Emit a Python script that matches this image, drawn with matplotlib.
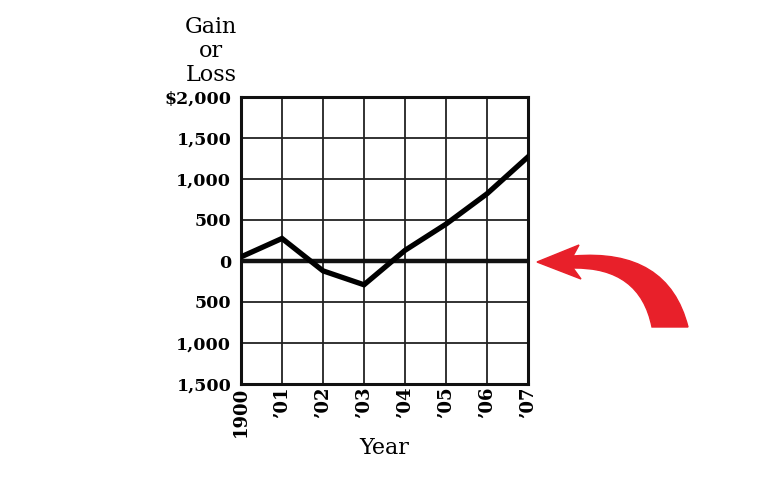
import numpy as np
import matplotlib
matplotlib.use("Agg")
from matplotlib import pyplot as plt
from matplotlib.path import Path
from matplotlib.patches import PathPatch

# data
years = [1900, 1901, 1902, 1903, 1904, 1905, 1906, 1907]
year_labels = ["1900", "\u201901", "\u201902", "\u201903", "\u201904", "\u201905", "\u201906", "\u201907"]
gain_loss = [50, 275, -120, -290, 130, 450, 820, 1270]
y_ticks = [2000, 1500, 1000, 500, 0, -500, -1000, -1500]
y_labels = ["$2,000", "1,500", "1,000", "500", "0", "500", "1,000", "1,500"]

W, H = 770, 484
fig = plt.figure(figsize=(W / 100, H / 100), dpi=100)
fig.patch.set_facecolor("white")

serif = ["DejaVu Serif"]

ax = fig.add_axes([241 / W, 1 - 384 / H, (528 - 241) / W, (384 - 97) / H])
ax.set_xlim(years[0], years[-1])
ax.set_ylim(-1500, 2000)

# grid
for yr in years:
    ax.axvline(yr, color="#222222", lw=1.3, zorder=1)
for v in y_ticks:
    ax.axhline(v, color="#222222", lw=1.3, zorder=1)
ax.axhline(0, color="#111111", lw=3.2, zorder=2)

ax.plot(years, gain_loss, color="black", lw=3.8, solid_joinstyle="miter", zorder=3)

for s in ax.spines.values():
    s.set_linewidth(2.2)
    s.set_color("#111111")

ax.set_yticks(y_ticks)
ax.set_yticklabels(y_labels, fontfamily=serif, fontweight="bold", fontsize=12.5)
ax.set_xticks(years)
ax.set_xticklabels(year_labels, fontfamily=serif, fontweight="bold", fontsize=13,
                   rotation=90, va="top")
ax.tick_params(length=0, pad=7)
ax.tick_params(axis="x", pad=2)

ax.set_xlabel("Year", fontfamily=serif, fontsize=16, labelpad=0)
fig.text(211 / W, 1 - 51 / H, "Gain\nor\nLoss", fontfamily=serif, fontsize=16,
         ha="center", va="center", linespacing=1.1)

# red curved arrow, drawn in pixel coordinates on an overlay
ov = fig.add_axes([0, 0, 1, 1], zorder=5)
ov.set_xlim(0, W)
ov.set_ylim(H, 0)
ov.axis("off")
ov.patch.set_alpha(0)

verts = [
    (537, 262), (579, 245), (573, 256),
    (668, 248), (688, 327),
    (652, 327),
    (640, 267), (573, 268),
    (581, 279), (537, 262),
]
codes = [
    Path.MOVETO, Path.LINETO, Path.LINETO,
    Path.CURVE3, Path.CURVE3,
    Path.LINETO,
    Path.CURVE3, Path.CURVE3,
    Path.LINETO, Path.CLOSEPOLY,
]
ov.add_patch(PathPatch(Path(verts, codes), facecolor="#e8202a", edgecolor="#e8202a", lw=1))

fig.savefig("out.png", dpi=100, facecolor="white")
